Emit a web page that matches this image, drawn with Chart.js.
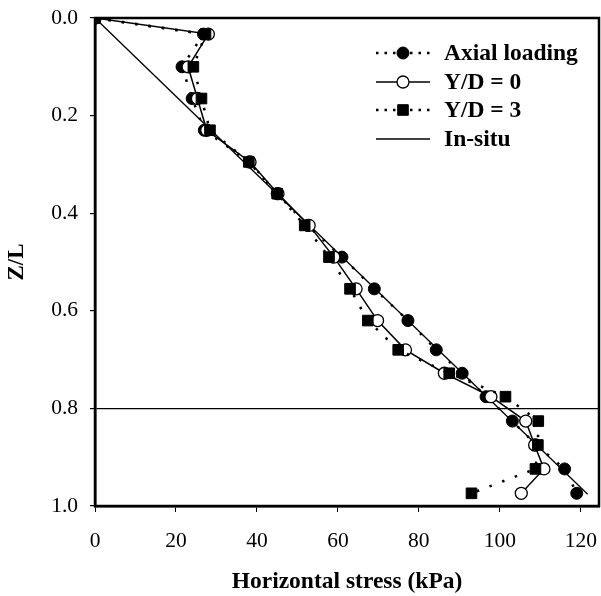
<!DOCTYPE html>
<html>
<head>
<meta charset="utf-8">
<script src="https://cdn.jsdelivr.net/npm/chart.js@4.4.1/dist/chart.umd.min.js"></script>
<style>
  html, body { margin: 0; padding: 0; background: #fff; }
  #wrap { width: 601px; height: 596px; }
</style>
</head>
<body>
<div id="wrap"><canvas id="chart"></canvas></div>
<script>
// Z/L of the measuring levels
const depth = [0, 0.033, 0.1, 0.165, 0.23, 0.295, 0.36, 0.425, 0.49, 0.555, 0.62, 0.68, 0.728, 0.776, 0.826, 0.875, 0.924, 0.974];

// horizontal stress (kPa)
const axialLoading = [0, 26.8, 21.5, 24.0, 27.0, 38.2, 45.0, 52.5, 61.0, 69.0, 77.3, 84.3, 90.7, 96.6, 103.1, 109.0, 116.0, 119.0];
const yd0 = [0, 28.0, 23.0, 25.3, 27.6, 38.3, 45.2, 52.9, 59.0, 64.5, 69.8, 76.7, 86.3, 97.8, 106.4, 108.6, 110.9, 105.3];
const yd3 = [0, 27.3, 24.3, 26.3, 28.4, 38.0, 45.0, 51.8, 57.8, 63.0, 67.4, 74.9, 87.5, 101.4, 109.5, 109.4, 108.8, 93.0];

const insituDepth = [0, 0.976];
const insituStress = [0, 121.7];

const seriesNames = ['Axial loading', 'Y/D = 0', 'Y/D = 3', 'In-situ'];
const refDepth = 0.8;

const serif = "'Liberation Serif', 'Times New Roman', serif";
const plotRightGap = 2;

function toPoints(xs, ys) {
  return xs.map((x, i) => ({ x: x, y: ys[i] }));
}

// the x tick padding eats into the right side; give it back
const pinArea = {
  id: 'pinArea',
  afterLayout(chart) {
    const right = chart.width - plotRightGap;
    const a = chart.chartArea;
    if (a.right !== right) {
      a.right = right;
      a.width = right - a.left;
      const x = chart.scales.x;
      x.right = right;
      x.width = right - x.left;
      x.configure();
    }
  }
};

// box around the plot (top and right sides are not axes)
const frame = {
  id: 'frame',
  afterDatasetsDraw(chart) {
    const a = chart.chartArea;
    const ctx = chart.ctx;
    ctx.save();
    ctx.strokeStyle = '#000';
    ctx.lineWidth = 2.5;
    ctx.strokeRect(a.left, a.top, a.right - a.left, a.bottom - a.top);
    ctx.restore();
  }
};

// legend drawn inside the plot, upper right
const insideLegend = {
  id: 'insideLegend',
  afterDraw(chart) {
    const ctx = chart.ctx;
    const a = chart.chartArea;
    const x0 = a.right - 223, x1 = a.right - 169, xm = (x0 + x1) / 2, tx = a.right - 155;
    const rows = [53, 82, 110, 139];
    ctx.save();
    chart.data.datasets.forEach((ds, i) => {
      const y = rows[i];
      ctx.strokeStyle = '#000';
      ctx.lineWidth = ds.borderWidth;
      // short dotted sample like the original
      ctx.setLineDash(ds.borderDash ? [2.5, 6] : []);
      ctx.beginPath();
      ctx.moveTo(x0, y);
      ctx.lineTo(x1, y);
      ctx.stroke();
      ctx.setLineDash([]);
      if (ds.pointRadius > 0) {
        ctx.fillStyle = ds.pointBackgroundColor;
        ctx.lineWidth = ds.pointBorderWidth;
        ctx.beginPath();
        if (ds.pointStyle === 'rect') {
          const s = ds.pointRadius * Math.SQRT1_2;
          ctx.rect(xm - s, y - s, 2 * s, 2 * s);
        } else {
          ctx.arc(xm, y, ds.pointRadius, 0, Math.PI * 2);
        }
        ctx.fill();
        ctx.stroke();
      }
      ctx.fillStyle = '#000';
      ctx.font = 'bold 23.5px ' + serif;
      ctx.textAlign = 'left';
      ctx.textBaseline = 'middle';
      ctx.fillText(ds.label, tx, y + 1);
    });
    ctx.restore();
  }
};

new Chart(document.getElementById('chart'), {
  type: 'scatter',
  data: {
    datasets: [
      {
        label: seriesNames[0],
        data: toPoints(axialLoading, depth),
        showLine: true,
        borderColor: '#000',
        borderWidth: 2.5,
        borderDash: [2.5, 11],
        pointStyle: 'circle',
        pointRadius: 6,
        pointBackgroundColor: '#000',
        pointBorderColor: '#000',
        pointBorderWidth: 1,
        order: 3
      },
      {
        label: seriesNames[1],
        data: toPoints(yd0, depth),
        showLine: true,
        borderColor: '#000',
        borderWidth: 1.5,
        pointStyle: 'circle',
        pointRadius: 6,
        pointBackgroundColor: '#fff',
        pointBorderColor: '#000',
        pointBorderWidth: 1.3,
        order: 2
      },
      {
        label: seriesNames[2],
        data: toPoints(yd3, depth),
        showLine: true,
        borderColor: '#000',
        borderWidth: 2.5,
        borderDash: [2.5, 11],
        pointStyle: 'rect',
        pointRadius: 7.5,
        pointBackgroundColor: '#000',
        pointBorderColor: '#000',
        pointBorderWidth: 1,
        order: 1
      },
      {
        label: seriesNames[3],
        data: toPoints(insituStress, insituDepth),
        showLine: true,
        borderColor: '#000',
        borderWidth: 1.3,
        pointRadius: 0,
        order: 4
      }
    ]
  },
  options: {
    responsive: true,
    maintainAspectRatio: false,
    animation: false,
    devicePixelRatio: 1,
    layout: { padding: { top: 18, right: plotRightGap, bottom: 0, left: 0 } },
    plugins: {
      legend: { display: false },
      tooltip: { enabled: false }
    },
    scales: {
      x: {
        type: 'linear',
        min: 0,
        max: 124.5,
        afterFit(scale) {
          scale.height = 90;
          scale.paddingLeft = 0;
          scale.paddingRight = 0;
        },
        ticks: {
          stepSize: 20,
          includeBounds: false,
          color: '#000',
          padding: 16,
          maxRotation: 0,
          font: { family: serif, size: 21.5 }
        },
        grid: {
          drawOnChartArea: false,
          tickLength: 6,
          tickColor: '#000'
        },
        border: { display: true, color: '#000', width: 2.5 },
        title: {
          display: true,
          text: 'Horizontal stress (kPa)',
          color: '#000',
          padding: { top: 0, bottom: 0 },
          font: { family: serif, size: 23.5, weight: 'bold' }
        }
      },
      y: {
        type: 'linear',
        reverse: true,
        min: 0,
        max: 1,
        afterFit(scale) {
          scale.width = 95;
          scale.paddingTop = 0;
          scale.paddingBottom = 0;
        },
        ticks: {
          stepSize: 0.2,
          color: '#000',
          padding: 12,
          font: { family: serif, size: 21.5 },
          callback: (v) => Number(v).toFixed(1)
        },
        grid: {
          tickLength: 5,
          tickColor: '#000',
          lineWidth: 1.2,
          color: (c) => (c.tick && Math.abs(c.tick.value - refDepth) < 1e-6) ? '#000' : 'rgba(0,0,0,0)'
        },
        border: { display: true, color: '#000', width: 2.5 },
        title: {
          display: true,
          text: 'Z/L',
          color: '#000',
          padding: { top: 3, bottom: 0 },
          font: { family: serif, size: 23, weight: 'bold' }
        }
      }
    }
  },
  plugins: [pinArea, frame, insideLegend]
});
</script>
</body>
</html>
